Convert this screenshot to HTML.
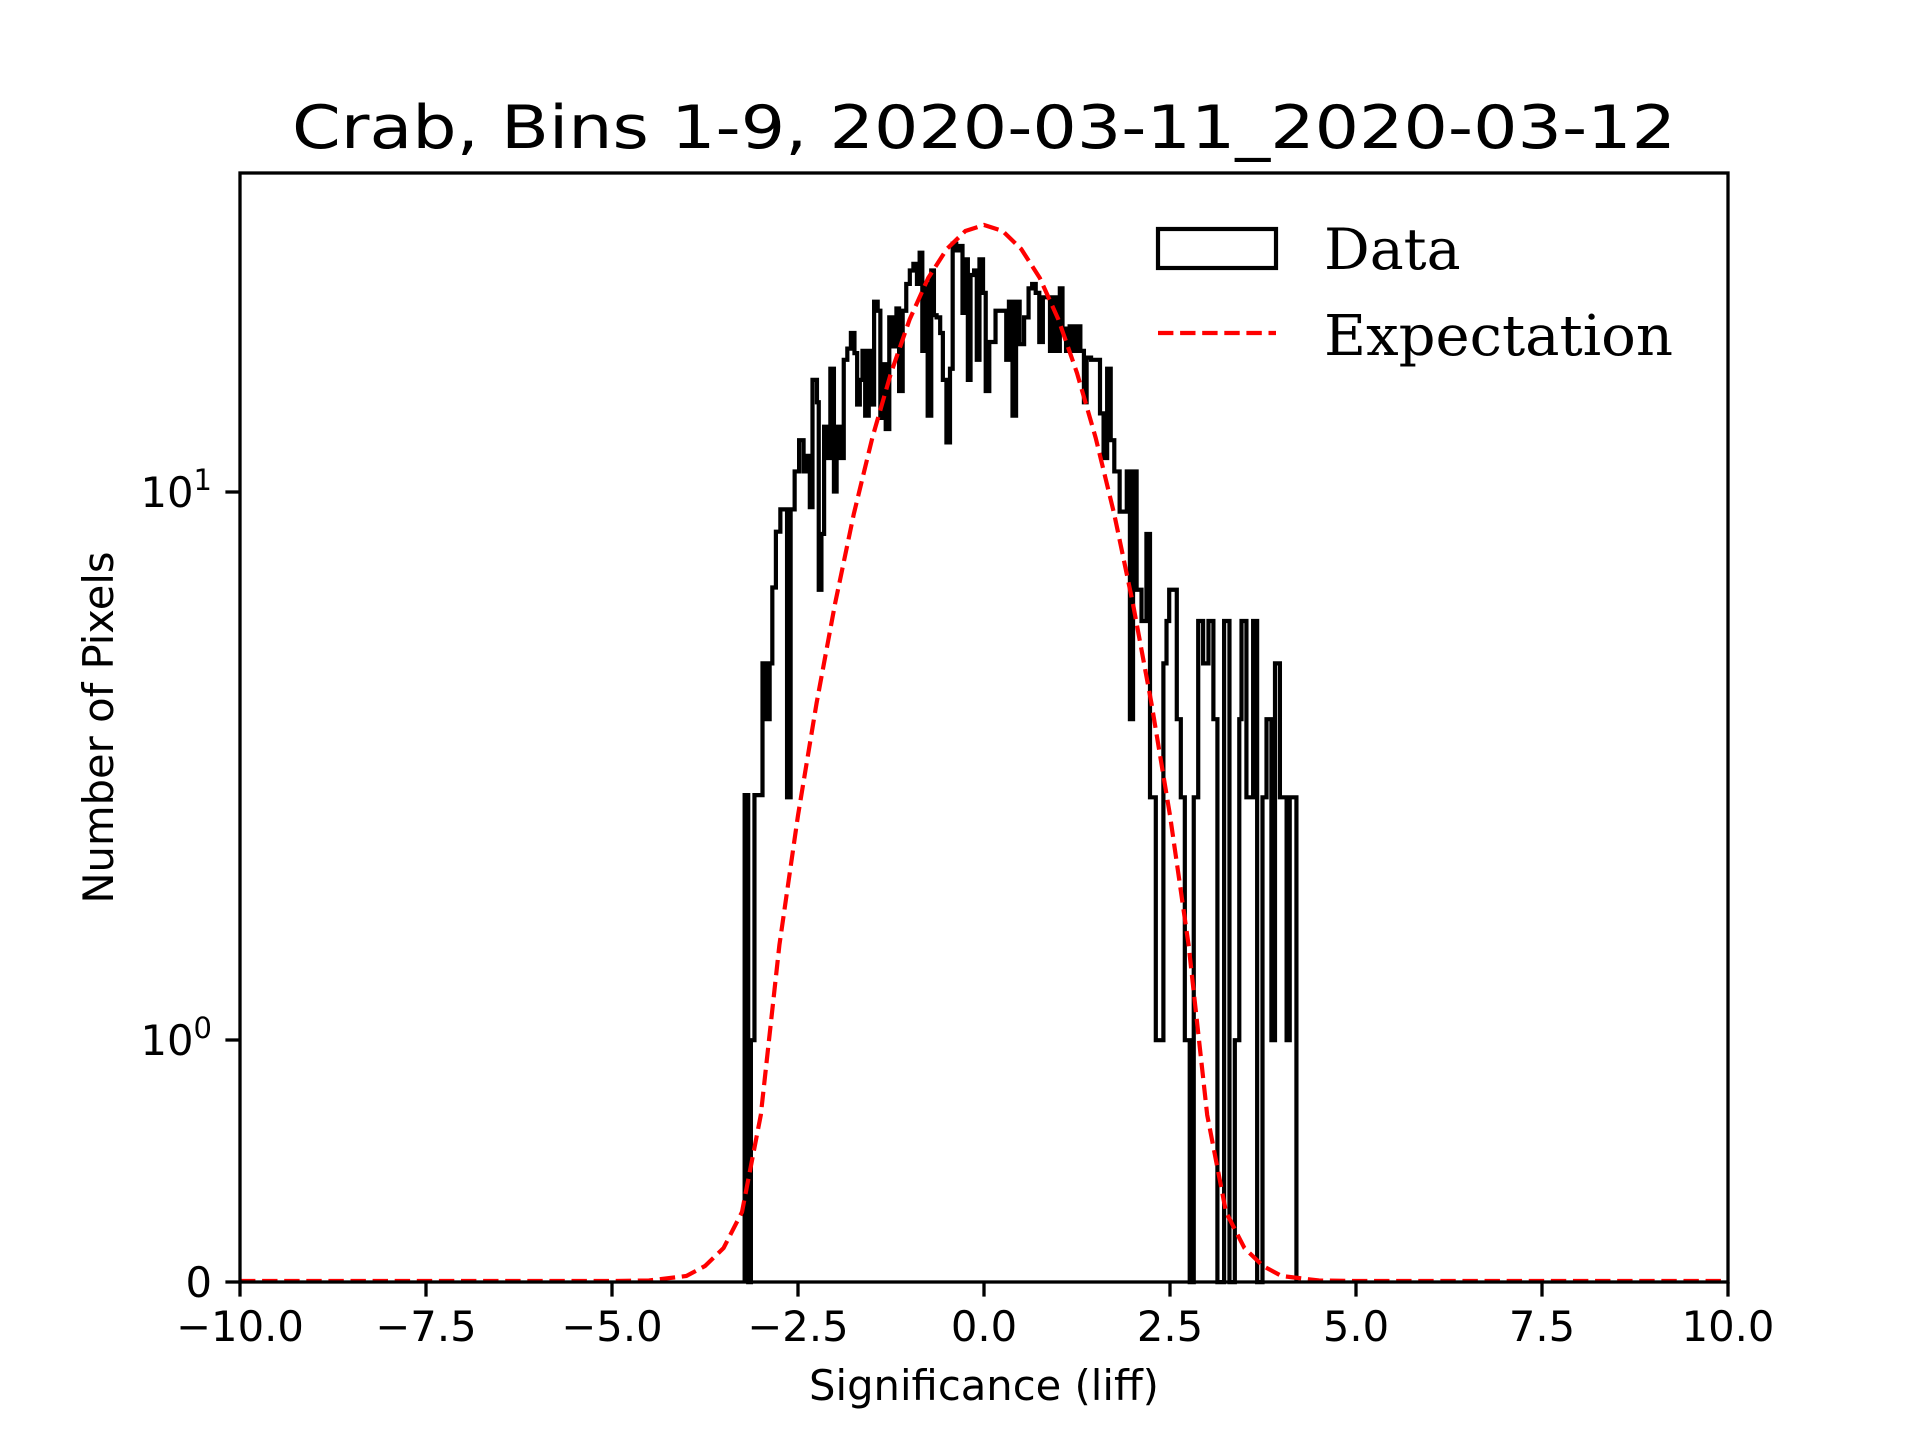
<!DOCTYPE html>
<html><head><meta charset="utf-8"><style>
html,body{margin:0;padding:0;background:#fff}
svg{display:block}
text{font-family:"DejaVu Sans","Liberation Sans",sans-serif;fill:#000}
.serif{font-family:"DejaVu Serif","Liberation Serif",serif}
</style></head><body>
<svg width="1920" height="1440" viewBox="0 0 1920 1440" xmlns="http://www.w3.org/2000/svg">
<rect width="1920" height="1440" fill="#fff"/>
<text x="984" y="148" font-size="60" text-anchor="middle" textLength="1384" lengthAdjust="spacingAndGlyphs">Crab, Bins 1-9, 2020-03-11_2020-03-12</text>

<!-- histogram -->
<g transform="translate(700,150) scale(0.446429)">
<path fill="none" stroke="#000" stroke-width="4.2" vector-effect="non-scaling-stroke" stroke-linejoin="miter" d="M100 2536 V1445 H108 V2536 H114 V1994 H122 V1445 H140 V1150 H148 V1275 H156 V1150 H162 V980 H170 V855 H180 V805 H195 V1450 H203 V805 H212 V720 H222 V650 H232 V720 H240 V685 H246 V800 H252 V515 H262 V565 H266 V985 H272 V860 H278 V620 H286 V690 H292 V490 H300 V765 H306 V620 H314 V690 H322 V470 H330 V445 H338 V410 H346 V455 H352 V570 H358 V515 H364 V450 H370 V595 H378 V450 H384 V570 H390 V340 H398 V360 H404 V600 H410 V480 H416 V625 H424 V375 H432 V440 H440 V355 H446 V540 H454 V360 H462 V300 H470 V270 H478 V255 H486 V300 H492 V230 H498 V450 H504 V300 H510 V595 H518 V270 H524 V370 H530 V375 H538 V410 H544 V515 H552 V655 H560 V490 H566 V210 H574 V225 H580 V215 H588 V365 H596 V245 H600 V515 H606 V280 H614 V270 H620 V470 H626 V245 H634 V320 H640 V540 H648 V430 H656 V430 H662 V360 H670 V360 H686 V470 H692 V340 H700 V595 H708 V340 H716 V435 H726 V375 H736 V310 H744 V300 H752 V320 H760 V430 H768 V330 H776 V330 H784 V450 H790 V330 H798 V450 H806 V310 H812 V400 H820 V450 H828 V395 H836 V450 H844 V395 H852 V450 H860 V565 H866 V465 H876 V470 H896 V590 H904 V690 H912 V490 H920 V650 H928 V720 H940 V810 H956 V720 H963 V1275 H970 V720 H978 V985 H989 V1055 H1000 V860 H1008 V1450 H1021 V1994 H1038 V1150 H1045 V1055 H1051 V985 H1068 V1275 H1077 V1450 H1086 V1994 H1097 V2536 H1106 V1450 H1116 V1055 H1127 V1150 H1139 V1055 H1150 V1275 H1159 V2536 H1174 V1055 H1186 V2536 H1198 V1994 H1208 V1275 H1213 V1055 H1224 V1450 H1239 V1055 H1248 V2536 H1260 V1450 H1269 V1275 H1280 V1994 H1288 V1150 H1299 V1450 H1314 V1994 H1321 V1450 H1336 V1994 V2536"/>
</g>

<!-- expectation curve -->
<polyline fill="none" stroke="#ff0000" stroke-width="4.2" stroke-dasharray="15.4 6.7" points="240,1281 612,1281 649,1280.5 686.4,1276 705,1266 723.6,1248 742,1212 760.8,1115 779.4,945 798,815.4 816.6,703 835.2,603 853.8,514 872.4,437.5 891,373 909.6,319.5 928.2,278 946.8,249 965.4,231 984,225 1002.6,231 1021.2,249 1039.8,278 1058.4,319.5 1077,373 1095.6,437.5 1114.2,514 1132.8,603 1151.4,703 1170,815.4 1188.6,945 1207.2,1115 1226,1212 1244.4,1248 1263,1266 1281.6,1276 1319,1280.5 1356,1281 1728,1281"/>

<!-- axes frame -->
<rect x="240" y="173" width="1488" height="1109" fill="none" stroke="#000" stroke-width="3.3"/>

<!-- ticks -->
<g stroke="#000" stroke-width="3.3">
<line x1="240" y1="1282" x2="240" y2="1296.6"/>
<line x1="426" y1="1282" x2="426" y2="1296.6"/>
<line x1="612" y1="1282" x2="612" y2="1296.6"/>
<line x1="798" y1="1282" x2="798" y2="1296.6"/>
<line x1="984" y1="1282" x2="984" y2="1296.6"/>
<line x1="1170" y1="1282" x2="1170" y2="1296.6"/>
<line x1="1356" y1="1282" x2="1356" y2="1296.6"/>
<line x1="1542" y1="1282" x2="1542" y2="1296.6"/>
<line x1="1728" y1="1282" x2="1728" y2="1296.6"/>
<line x1="225.4" y1="1282" x2="240" y2="1282"/>
<line x1="225.4" y1="1040" x2="240" y2="1040"/>
<line x1="225.4" y1="492" x2="240" y2="492"/>
</g>
<g font-size="41.7" text-anchor="middle">
<text x="240" y="1341">−10.0</text>
<text x="426" y="1341">−7.5</text>
<text x="612" y="1341">−5.0</text>
<text x="798" y="1341">−2.5</text>
<text x="984" y="1341">0.0</text>
<text x="1170" y="1341">2.5</text>
<text x="1356" y="1341">5.0</text>
<text x="1542" y="1341">7.5</text>
<text x="1728" y="1341">10.0</text>
</g>
<g font-size="41.7" text-anchor="end">
<text x="212" y="1297">0</text>
<text x="212" y="1055">10<tspan dy="-17" font-size="29">0</tspan></text>
<text x="212" y="507">10<tspan dy="-17" font-size="29">1</tspan></text>
</g>
<text x="984" y="1400" font-size="41.7" text-anchor="middle">Significance (liff)</text>
<text transform="translate(113,727.5) rotate(-90)" font-size="41.7" text-anchor="middle">Number of Pixels</text>

<!-- legend -->
<rect x="1158" y="229" width="118" height="39" fill="none" stroke="#000" stroke-width="4.2"/>
<line x1="1158" y1="333" x2="1276" y2="333" stroke="#ff0000" stroke-width="4.2" stroke-dasharray="15.4 6.7"/>
<text class="serif" x="1324" y="269" font-size="57">Data</text>
<text class="serif" x="1324" y="355" font-size="56" textLength="349" lengthAdjust="spacingAndGlyphs">Expectation</text>
</svg>
</body></html>
